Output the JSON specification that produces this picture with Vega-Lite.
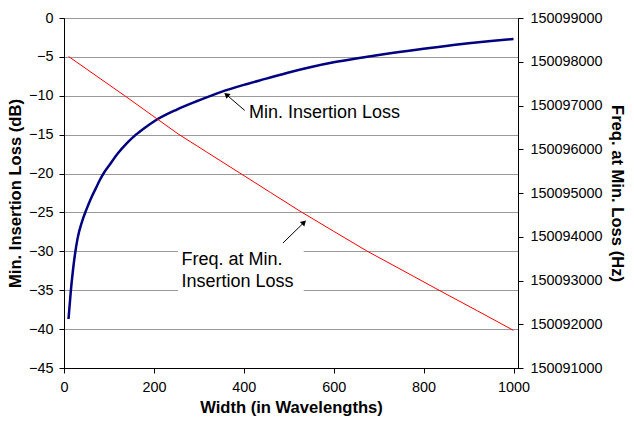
{
  "$schema": "https://vega.github.io/schema/vega-lite/v6.json",
  "autosize": {"type": "none"},
  "padding": {"left": 64, "top": 18, "right": 116, "bottom": 53},
  "width": 454,
  "height": 350,
  "config": {
    "font": "Liberation Sans",
    "view": {"stroke": "black", "strokeWidth": 1},
    "axis": {"labelFont": "Liberation Sans", "titleFont": "Liberation Sans", "labelFontSize": 14.4, "titleFontSize": 16.6, "titleFontWeight": "bold", "labelColor": "black", "titleColor": "black", "domainColor": "black", "tickColor": "black", "tickSize": 5, "labelOverlap": false, "labelFlush": false, "labelBound": false, "tickCount": 20}
  },
  "datasets": {
    "loss": [
      {"w": 10, "il": -38.7}, {"w": 15, "il": -35.2}, {"w": 20, "il": -32.4}, {"w": 30, "il": -28.4},
      {"w": 40, "il": -26.2}, {"w": 50, "il": -24.6}, {"w": 60, "il": -23.2}, {"w": 70, "il": -22.0},
      {"w": 80, "il": -20.8}, {"w": 90, "il": -19.8}, {"w": 100, "il": -19.0}, {"w": 120, "il": -17.4},
      {"w": 140, "il": -16.1}, {"w": 160, "il": -15.0}, {"w": 180, "il": -14.1}, {"w": 200, "il": -13.3},
      {"w": 250, "il": -11.8}, {"w": 300, "il": -10.6}, {"w": 350, "il": -9.5}, {"w": 400, "il": -8.6},
      {"w": 450, "il": -7.8}, {"w": 500, "il": -7.0}, {"w": 550, "il": -6.3}, {"w": 600, "il": -5.7},
      {"w": 650, "il": -5.2}, {"w": 700, "il": -4.75}, {"w": 750, "il": -4.35}, {"w": 800, "il": -3.95},
      {"w": 850, "il": -3.6}, {"w": 900, "il": -3.25}, {"w": 950, "il": -2.95}, {"w": 1000, "il": -2.7}
    ],
    "freq": [
      {"w": 10, "f": 150098122}, {"w": 50, "f": 150097834}, {"w": 100, "f": 150097475}, {"w": 135, "f": 150097224},
      {"w": 200, "f": 150096746}, {"w": 254, "f": 150096349}, {"w": 320, "f": 150095919}, {"w": 391, "f": 150095457},
      {"w": 460, "f": 150095008}, {"w": 528, "f": 150094566}, {"w": 600, "f": 150094125}, {"w": 673, "f": 150093679},
      {"w": 750, "f": 150093250}, {"w": 832, "f": 150092790}, {"w": 920, "f": 150092305}, {"w": 1000, "f": 150091859}
    ],
    "labels": [
      {"w": 411.6, "il": -12.2, "text": "Min. Insertion Loss"},
      {"w": 261.2, "il": -31.16, "text": "Freq. at Min."},
      {"w": 261.2, "il": -33.99, "text": "Insertion Loss"}
    ],
    "arrows": [
      {"w1": 402, "y1": -11.88, "w2": 361.3, "y2": -9.86, "angle": 310.6},
      {"w1": 487.2, "y1": -28.93, "w2": 534, "y2": -26.28, "angle": 45.5}
    ],
    "box": [{"w1": 253.6, "w2": 533.3, "y1": -29.15, "y2": -35.7}]
  },
  "layer": [
    {
      "layer": [
        {
          "data": {"name": "loss"},
          "mark": {"type": "line", "color": "#000080", "strokeWidth": 2.5, "interpolate": "monotone"},
          "encoding": {
            "x": {"field": "w", "type": "quantitative", "scale": {"domain": [0, 1010], "nice": false}, "axis": {"values": [0, 200, 400, 600, 800, 1000], "format": "d", "title": "Width (in Wavelengths)", "grid": false, "labelPadding": 7, "titlePadding": 6}},
            "y": {"field": "il", "type": "quantitative", "scale": {"domain": [-45, 0], "nice": false}, "axis": {"values": [-45, -40, -35, -30, -25, -20, -15, -10, -5, 0], "tickCount": 20, "title": "Min. Insertion Loss (dB)", "grid": true, "gridColor": "#999999", "gridOpacity": 1, "gridWidth": 1, "labelPadding": 6, "titlePadding": 5}}
          }
        },
        {
          "data": {"name": "box"},
          "mark": {"type": "rect", "color": "white", "opacity": 1},
          "encoding": {
            "x": {"field": "w1", "type": "quantitative"},
            "x2": {"field": "w2"},
            "y": {"field": "y1", "type": "quantitative"},
            "y2": {"field": "y2"}
          }
        },
        {
          "data": {"name": "labels"},
          "mark": {"type": "text", "align": "left", "baseline": "middle", "fontSize": 18, "font": "Liberation Sans", "color": "black"},
          "encoding": {
            "x": {"field": "w", "type": "quantitative"},
            "y": {"field": "il", "type": "quantitative"},
            "text": {"field": "text"}
          }
        },
        {
          "data": {"name": "arrows"},
          "mark": {"type": "rule", "color": "black", "strokeWidth": 1},
          "encoding": {
            "x": {"field": "w1", "type": "quantitative"},
            "y": {"field": "y1", "type": "quantitative"},
            "x2": {"field": "w2"},
            "y2": {"field": "y2"}
          }
        },
        {
          "data": {"name": "arrows"},
          "mark": {"type": "point", "shape": "triangle-up", "filled": true, "color": "black", "size": 40, "opacity": 1},
          "encoding": {
            "x": {"field": "w2", "type": "quantitative"},
            "y": {"field": "y2", "type": "quantitative"},
            "angle": {"field": "angle", "type": "quantitative", "scale": null}
          }
        }
      ]
    },
    {
      "data": {"name": "freq"},
      "mark": {"type": "line", "color": "#ff0000", "strokeWidth": 1},
      "encoding": {
        "x": {"field": "w", "type": "quantitative"},
        "y": {"field": "f", "type": "quantitative", "scale": {"domain": [150091000, 150099000], "nice": false, "zero": false}, "axis": {"orient": "right", "values": [150091000, 150092000, 150093000, 150094000, 150095000, 150096000, 150097000, 150098000, 150099000], "tickCount": 20, "format": "d", "title": "Freq. at Min. Loss (Hz)", "grid": false, "labelPadding": 7, "titlePadding": 6}}
      }
    }
  ],
  "resolve": {"scale": {"y": "independent"}}
}
